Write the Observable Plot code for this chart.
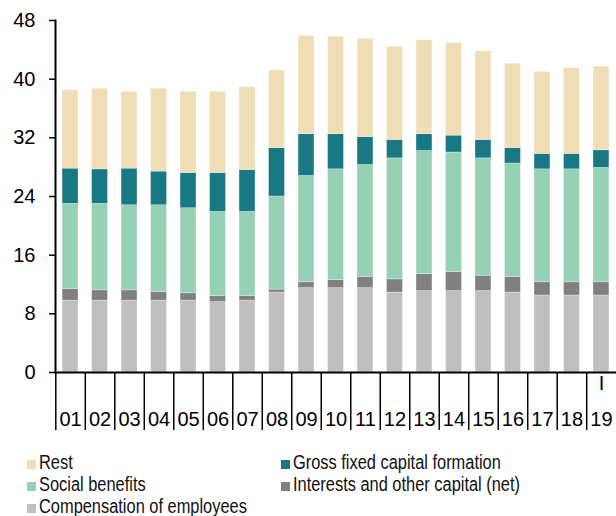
<!DOCTYPE html>
<html><head><meta charset="utf-8">
<script src="https://cdn.jsdelivr.net/npm/d3@7"></script>
<script src="https://cdn.jsdelivr.net/npm/@observablehq/plot@0.6"></script>
<style>
body{margin:0;background:#fff;font-family:"Liberation Sans",Arimo,Arial,sans-serif;}
#legend{display:grid;grid-template-columns:254px auto;padding-left:27px;padding-top:11px;font-family:"Liberation Sans",Arimo,Arial,sans-serif;font-size:20px;line-height:22px;color:#111;}
.item{white-space:nowrap}
.sw{display:inline-block;width:9px;height:9px;margin-right:3px}
.lab{display:inline-block;transform:scaleX(0.82);transform-origin:0 50%}
</style></head><body><div id="chart"></div><div id="legend"></div>
<script>
const years = ["01","02","03","04","05","06","07","08","09","10","11","12","13","14","15","16","17","18","19"];
const quarterLabels = ["","","","","","","","","","","","","","","","","","","I"];
const yTicks = [0, 8, 16, 24, 32, 40, 48];
const compensation = [9.8,9.8,9.8,9.8,9.8,9.6,9.8,10.9,11.5,11.5,11.5,10.9,11.1,11.1,11.1,10.9,10.5,10.5,10.5];
const interests    = [1.6,1.4,1.4,1.2,1.0,0.8,0.6,0.4,0.8,1.1,1.5,1.8,2.3,2.6,2.1,2.1,1.8,1.8,1.8];
const social       = [11.6,11.8,11.6,11.8,11.6,11.5,11.5,12.7,14.5,15.1,15.3,16.5,16.8,16.3,16.0,15.5,15.4,15.4,15.6];
const gfcf         = [4.8,4.7,5.0,4.6,4.8,5.3,5.7,6.6,5.7,4.8,3.8,2.5,2.3,2.3,2.5,2.1,2.1,2.1,2.4];
const rest         = [10.7,11.0,10.5,11.3,11.1,11.1,11.3,10.6,13.4,13.3,13.4,12.7,12.8,12.6,12.1,11.5,11.2,11.7,11.4];

const series = [
  {name:"Compensation of employees", values:compensation, color:"#bfbfbf"},
  {name:"Interests and other capital (net)", values:interests, color:"#808080"},
  {name:"Social benefits", values:social, color:"#97d1b5"},
  {name:"Gross fixed capital formation", values:gfcf, color:"#187985"},
  {name:"Rest", values:rest, color:"#efddb5"}
];
const legendOrder = ["Rest","Gross fixed capital formation","Social benefits","Interests and other capital (net)","Compensation of employees"];

const data = [];
series.forEach(s => s.values.forEach((v, i) => data.push({year: years[i], series: s.name, value: v})));

const W = 616, H = 440, mL = 55, mR = 0, pIn = 0.46, pOut = 0.24;
const step = (W - mL - mR) / (years.length - pIn + 2 * pOut);

const plot = Plot.plot({
  width: W, height: H, marginLeft: mL, marginRight: mR, marginTop: 20, marginBottom: H - 372,
  style: {fontFamily: "'Liberation Sans', Arimo, Arial, sans-serif", fontSize: "20px", color: "#000", background: "#fff"},
  x: {domain: years, paddingInner: pIn, paddingOuter: pOut, round: false, axis: null},
  y: {domain: [0, 48], axis: null},
  color: {domain: series.map(s => s.name), range: series.map(s => s.color)},
  marks: [
    Plot.barY(data, {x: "year", y: "value", fill: "series", order: series.map(s => s.name), stroke: "#fff", strokeWidth: 0.6, strokeOpacity: 0.5}),
    Plot.axisY({ticks: yTicks, tickSize: 6, tickPadding: 14, fontSize: 20, label: null, strokeWidth: 1.5}),
    Plot.axisX({tickSize: 58, dx: -step / 2, tickFormat: () => "", label: null, strokeWidth: 1.5}),
    Plot.axisX({tickSize: 0, tickPadding: 39, label: null, fontSize: 20}),
    Plot.text(years.map((y, i) => ({year: y, q: quarterLabels[i]})), {x: "year", text: "q", frameAnchor: "bottom", dy: 17, fontSize: 20}),
    Plot.ruleY([0], {stroke: "#000", strokeWidth: 2}),
    Plot.frame({anchor: "left", stroke: "#000", strokeWidth: 2})
  ]
});
document.getElementById("chart").appendChild(plot);

const leg = document.getElementById("legend");
legendOrder.forEach(n => {
  const s = series.find(d => d.name === n);
  const div = document.createElement("div");
  div.className = "item";
  div.innerHTML = `<span class="sw" style="background:${s.color}"></span><span class="lab">${n}</span>`;
  leg.appendChild(div);
});
</script></body></html>
